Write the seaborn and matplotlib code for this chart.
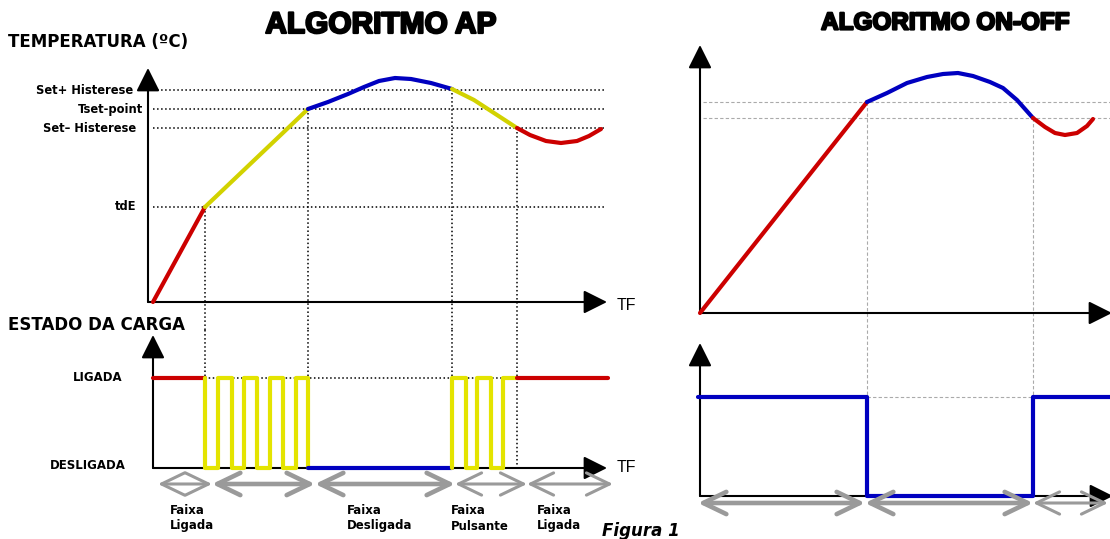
import numpy as np
import pandas as pd
import matplotlib.pyplot as plt
import matplotlib.patheffects as pe
import seaborn as sns

sns.set_theme(style="white")
plt.rcParams['font.family'] = ['DejaVu Sans']
plt.rcParams['text.color'] = 'black'

W, H = 1110, 539

# --------------------------- data: algoritmo AP ---------------------------
# temperature curve (time, temperature), piecewise by load state colour
ap_t_red1 = [3, 55]
ap_T_red1 = [0, 95]
ap_t_yel1 = [55, 158]
ap_T_yel1 = [95, 193]
ap_t_blue = [158, 178, 198, 214, 229, 245, 261, 281, 302]
ap_T_blue = [193, 200, 208, 215, 221, 224, 223, 219, 213]
ap_t_yel2 = [302, 324, 344, 367]
ap_T_yel2 = [213, 202, 189, 174]
ap_t_red2 = [367, 380, 396, 411, 427, 439, 451]
ap_T_red2 = [174, 167, 161, 159, 161, 166, 173]

ap_levels = [212, 193, 174, 95]
ap_level_labels = ["Set+ Histerese", "Tset-point", "Set– Histerese", "tdE"]
ap_switch_t = [55, 158, 302, 367]
ap_switch_T = [95, 193, 213, 174]

# load state (1 = LIGADA, 0 = DESLIGADA)
st_t_red1 = [3, 55]
st_s_red1 = [1, 1]
st_t_pulse1 = [55, 55, 68, 82, 94, 107, 120, 133, 146, 158]
st_s_pulse1 = [1, 0, 1, 0, 1, 0, 1, 0, 1, 0]
st_t_blue = [158, 302]
st_s_blue = [0, 0]
st_t_pulse2 = [302, 302, 316, 327, 341, 353, 367]
st_s_pulse2 = [0, 1, 0, 1, 0, 1, 1]
st_t_red2 = [367, 458]
st_s_red2 = [1, 1]
state_labels = ["LIGADA", "DESLIGADA"]

bands_left = [(8, 62), (62, 165), (165, 305), (305, 377), (377, 463)]
bands_left_thick = [False, True, True, False, False]
band_names = ["Faixa\nLigada", "Faixa\nDesligada", "Faixa\nPulsante", "Faixa\nLigada"]
band_label_t = [20, 197, 301, 387]

# --------------------------- data: algoritmo ON-OFF ---------------------------
oo_t_red1 = [0, 167]
oo_T_red1 = [0, 211]
oo_t_blue = [167, 187, 207, 227, 243, 258, 273, 290, 303, 317, 333]
oo_T_blue = [211, 220, 230, 236, 239, 240, 237, 231, 225, 213, 195]
oo_t_red2 = [333, 345, 355, 365, 377, 387, 393]
oo_T_red2 = [195, 186, 180, 178, 180, 187, 194]
oo_levels = [211, 195]
oo_switch_t = [167, 333]
oo_switch_T = [211, 195]
oo_state_t = [-2, 167, 333, 410]
oo_state_s = [1, 0, 1, 1]
bands_right = [(-2, 165), (165, 333), (333, 408)]
bands_right_thick = [True, True, False]

RED, BLUE, YEL, YEL2 = '#CC0000', '#0000C0', '#D2D200', '#E4E400'
GRAY = '#9A9A9A'
lw_curve = 3.0

fig = plt.figure(figsize=(W / 100, H / 100), dpi=100)


def add_ax(x0, y0, x1, y1):
    ax = fig.add_axes([x0 / W, 1 - y1 / H, (x1 - x0) / W, (y1 - y0) / H])
    ax.set_axis_off()
    return ax


def axis_arrow(ax, start, end):
    ax.annotate('', xy=end, xytext=start, annotation_clip=False,
                arrowprops=dict(arrowstyle='-|>,head_length=0.72,head_width=0.36',
                                mutation_scale=20, lw=1.5, color='black',
                                shrinkA=0, shrinkB=0), zorder=2)


def band_arrow(ax, a, b, y, thick):
    ax.annotate('', xy=(b, y), xytext=(a, y), annotation_clip=False,
                arrowprops=dict(arrowstyle='<->,head_length=0.83,head_width=0.4',
                                mutation_scale=20, lw=3.3 if thick else 2.2, color=GRAY,
                                shrinkA=0, shrinkB=0))


def curve(ax, t, v, color, steps=False):
    kw = dict(drawstyle='steps-post') if steps else {}
    sns.lineplot(x=t, y=v, color=color, lw=lw_curve, ax=ax, estimator=None,
                 sort=False, zorder=3, **kw)


ax_ap = add_ax(0, 0, 620, 330)
ax_ap.set_xlim(-150, 470)
ax_ap.set_ylim(302 - 330, 302)
ax_st = add_ax(0, 330, 620, 539)
ax_st.set_xlim(-150, 470)
ax_st.set_ylim((468 - 539) / 90, (468 - 330) / 90)
ax_oo = add_ax(620, 0, 1110, 330)
ax_oo.set_xlim(-80, 410)
ax_oo.set_ylim(313 - 330, 313)
ax_oos = add_ax(620, 330, 1110, 539)
ax_oos.set_xlim(-80, 410)
ax_oos.set_ylim((496 - 539) / 99, (496 - 330) / 99)

# --------------------------- AP temperature ---------------------------
for lev, lab, dx in zip(ap_levels, ap_level_labels, [-17, -7, -14, -14]):
    ax_ap.plot([3, 455], [lev, lev], color='black', ls=':', lw=1.1, zorder=1)
    ax_ap.text(dx, lev, lab, ha='right', va='center', fontsize=8.3, fontweight='bold')
for t, T in zip(ap_switch_t, ap_switch_T):
    ax_ap.plot([t, t], [T, 302 - 330], color='black', ls=':', lw=1.1, zorder=1)

curve(ax_ap, ap_t_red1, ap_T_red1, RED)
curve(ax_ap, ap_t_yel1, ap_T_yel1, YEL)
curve(ax_ap, ap_t_blue, ap_T_blue, BLUE)
curve(ax_ap, ap_t_yel2, ap_T_yel2, YEL)
curve(ax_ap, ap_t_red2, ap_T_red2, RED)
axis_arrow(ax_ap, (-2, 0), (-2, 234))
axis_arrow(ax_ap, (-2, 0), (457, 0))

# --------------------------- AP load state ---------------------------
top_st = (468 - 330) / 90
ax_st.plot([2, 458], [1, 1], color='black', ls=':', lw=1.1, zorder=1)
for t in ap_switch_t:
    ax_st.plot([t, t], [top_st, 1], color='black', ls=':', lw=1.1, zorder=1)
ax_st.plot([ap_switch_t[-1]] * 2, [1, 0], color='black', ls=':', lw=1.1, zorder=1)
ax_st.text(-28, 1.01, state_labels[0], ha='right', va='center', fontsize=8.5, fontweight='bold')
ax_st.text(-24, 0.03, state_labels[1], ha='right', va='center', fontsize=8.5, fontweight='bold')

curve(ax_st, st_t_red1, st_s_red1, RED)
curve(ax_st, st_t_pulse1, st_s_pulse1, YEL2, steps=True)
curve(ax_st, st_t_blue, st_s_blue, BLUE)
curve(ax_st, st_t_pulse2, st_s_pulse2, YEL2, steps=True)
curve(ax_st, st_t_red2, st_s_red2, RED)
axis_arrow(ax_st, (3, 0), (3, (468 - 335) / 90))
axis_arrow(ax_st, (3, 0), (457, 0))

for (a, b), thick in zip(bands_left, bands_left_thick):
    band_arrow(ax_st, a, b, (468 - 484) / 90, thick)
for t, name in zip(band_label_t, band_names):
    ax_st.text(t, (468 - 504) / 90, name, ha='left', va='top', fontsize=8.5,
               fontweight='bold', linespacing=1.25)

# --------------------------- ON-OFF temperature ---------------------------
for lev in oo_levels:
    ax_oo.plot([3, 410], [lev, lev], color='#AAAAAA', ls=(0, (3, 2)), lw=0.8, zorder=1)
for t, T in zip(oo_switch_t, oo_switch_T):
    ax_oo.plot([t, t], [T, 313 - 330], color='#AAAAAA', ls=(0, (3, 2)), lw=0.8, zorder=1)
curve(ax_oo, oo_t_red1, oo_T_red1, RED)
curve(ax_oo, oo_t_blue, oo_T_blue, BLUE)
curve(ax_oo, oo_t_red2, oo_T_red2, RED)
axis_arrow(ax_oo, (0, 0), (0, 268))
axis_arrow(ax_oo, (0, 0), (412, 0))

# --------------------------- ON-OFF load state ---------------------------
top_oos = (496 - 330) / 99
for t in oo_switch_t:
    ax_oos.plot([t, t], [top_oos, 1], color='#AAAAAA', ls=(0, (3, 2)), lw=0.8, zorder=1)
ax_oos.plot(oo_switch_t, [1, 1], color='#AAAAAA', ls=(0, (3, 2)), lw=0.8, zorder=1)
axis_arrow(ax_oos, (0, 0), (0, (496 - 343) / 99))
axis_arrow(ax_oos, (0, 0), (413, 0))
curve(ax_oos, oo_state_t, oo_state_s, BLUE, steps=True)
for (a, b), thick in zip(bands_right, bands_right_thick):
    band_arrow(ax_oos, a, b, (496 - 503) / 99, thick)

# --------------------------- titles and labels ---------------------------
def ftext(x, y, s, **kw):
    fig.text(x / W, 1 - y / H, s, **kw)


heavy = [pe.withStroke(linewidth=1.6, foreground='black')]
ftext(381, 25, "ALGORITMO AP", ha='center', va='center', fontsize=21.5,
      fontweight='bold', family=['Liberation Sans', 'DejaVu Sans'], path_effects=heavy)
ftext(945, 23, "ALGORITMO ON-OFF", ha='center', va='center', fontsize=17.5,
      fontweight='bold', family=['Liberation Sans', 'DejaVu Sans'], path_effects=heavy)
ftext(8, 42, "TEMPERATURA (ºC)", ha='left', va='center', fontsize=12, fontweight='bold')
ftext(8, 325, "ESTADO DA CARGA", ha='left', va='center', fontsize=12, fontweight='bold')
ftext(617, 305, "TF", ha='left', va='center', fontsize=11.5, family=['Liberation Sans', 'DejaVu Sans'])
ftext(617, 467, "TF", ha='left', va='center', fontsize=11.5, family=['Liberation Sans', 'DejaVu Sans'])
ftext(602, 522, "Figura 1", ha='left', va='top', fontsize=12, fontweight='bold', style='italic')

plt.savefig("out.png", dpi=100)
